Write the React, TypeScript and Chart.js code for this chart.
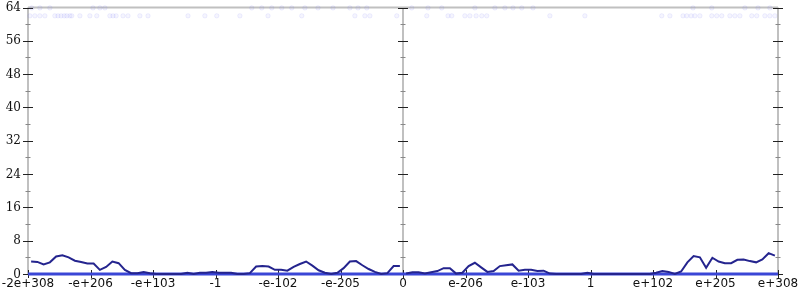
import React, { useEffect, useRef } from "react";
import { Chart, registerables } from "chart.js";

Chart.register(...registerables);

// x axis: tick positions (index units) and their labels
const xTickLabels = [
  "-2e+308", "-e+206", "-e+103", "-1", "-e-102", "-e-205", "0",
  "e-206", "e-103", "1", "e+102", "e+205", "e+308",
];
const yTicks = [0, 8, 16, 24, 32, 40, 48, 56, 64];

// histogram counts, 60 bins per half (negative side, positive side)
const leftCounts = [
  3.0, 2.9, 2.3, 2.8, 4.2, 4.5, 4.0, 3.2, 2.9, 2.5,
  2.5, 1.0, 1.7, 3.0, 2.6, 1.0, 0.2, 0.2, 0.5, 0.2,
  0, 0, 0, 0, 0, 0.3, 0, 0.3, 0.3, 0.5,
  0.3, 0.3, 0.3, 0, 0, 0.2, 1.8, 1.9, 1.8, 1.0,
  1.0, 0.8, 1.7, 2.4, 3.0, 2.0, 0.9, 0.3, 0, 0.3,
  1.4, 3.0, 3.1, 2.1, 1.2, 0.5, 0, 0.2, 1.9, 1.9,
];
const rightCounts = [
  0.1, 0.4, 0.4, 0.1, 0.4, 0.7, 1.4, 1.4, 0.1, 0.3,
  1.9, 2.7, 1.6, 0.5, 0.7, 1.9, 2.1, 2.3, 0.8, 1.0,
  1.0, 0.7, 0.8, 0.1, 0, 0, 0, 0, 0, 0.3,
  0, 0, 0, 0, 0, 0, 0, 0, 0, 0,
  0.3, 0.7, 0.5, 0, 0.6, 2.8, 4.3, 4.0, 1.5, 3.9,
  3.0, 2.6, 2.6, 3.4, 3.5, 3.1, 2.8, 3.5, 5.0, 4.4,
];

// faint sample dots near the top (x in tick-index units)
const dotsLowX = [
  -5.97, -5.89, -5.81, -5.73, -5.57, -5.52, -5.47, -5.42, -5.38, -5.33, -5.3,
  -5.17, -5.01, -4.9, -4.69, -4.64, -4.59, -4.48, -4.4, -4.21, -4.08, -3.44,
  -3.17, -2.98, -2.61, -2.16, -1.62, -0.77, -0.61, -0.53, -0.1,
  0.38, 0.72, 0.78, 0.99, 1.07, 1.17, 1.26, 1.34, 2.35, 2.91, 4.14, 4.27,
  4.48, 4.54, 4.61, 4.67, 4.75, 4.94, 5.02, 5.1, 5.23, 5.31, 5.39, 5.58,
  5.66, 5.79, 5.87, 5.95,
];
const dotsLowY = 62.0;
const dotsHighX = [
  -5.94, -5.81, -5.65, -4.96, -4.85, -4.77, -2.42, -2.26, -2.1, -1.94, -1.78,
  -1.57, -1.36, -1.12, -0.85, -0.72, -0.58,
  0.14, 0.4, 0.62, 1.15, 1.47, 1.63, 1.76, 1.9, 2.08, 4.64, 4.94, 5.47, 5.68,
  5.87,
];
const dotsHighY = 63.9;

const X_MIN = -6;
const X_MAX = 6;
const BIN_W = 0.1;

export default function App() {
  const ref = useRef<HTMLCanvasElement | null>(null);

  useEffect(() => {
    document.body.style.margin = "0";
    const canvas = ref.current;
    if (!canvas) return;

    const axesPlugin = {
      id: "gpAxes",
      beforeDatasetsDraw(chart: any) {
        const { ctx, chartArea, scales } = chart;
        const xs = scales.x;
        const ys = scales.y;
        const axisXs = [xs.getPixelForValue(X_MIN), xs.getPixelForValue(0), xs.getPixelForValue(X_MAX)];
        ctx.save();
        // gray axis lines
        ctx.strokeStyle = "#c0c0c0";
        ctx.lineWidth = 2;
        ctx.beginPath();
        axisXs.forEach((px) => {
          ctx.moveTo(px, chartArea.top);
          ctx.lineTo(px, chartArea.bottom);
        });
        ctx.moveTo(chartArea.left, chartArea.top);
        ctx.lineTo(chartArea.right, chartArea.top);
        ctx.stroke();

        // y ticks on all three vertical axes
        for (let v = 0; v <= 64; v += 4) {
          const py = Math.round(ys.getPixelForValue(v)) + 0.5;
          const major = v % 8 === 0;
          const half = major ? 5 : 2.5;
          ctx.strokeStyle = major ? "#222" : "#888";
          ctx.lineWidth = 1;
          ctx.beginPath();
          axisXs.forEach((px) => {
            ctx.moveTo(px - half, py);
            ctx.lineTo(px + half, py);
          });
          ctx.stroke();
        }
        // x ticks
        ctx.strokeStyle = "#222";
        ctx.beginPath();
        xTickLabels.forEach((_, i) => {
          const px = Math.round(xs.getPixelForValue(X_MIN + i)) + 0.5;
          ctx.moveTo(px, chartArea.bottom - 4);
          ctx.lineTo(px, chartArea.bottom + 4);
        });
        ctx.stroke();

        // labels
        ctx.fillStyle = "#111";
        ctx.font = '12px "DejaVu Serif"';
        ctx.textAlign = "right";
        ctx.textBaseline = "middle";
        yTicks.forEach((v) => {
          ctx.fillText(String(v), chartArea.left - 7, ys.getPixelForValue(v) + 0.5);
        });
        ctx.font = '12px "DejaVu Sans"';
        ctx.textAlign = "center";
        ctx.textBaseline = "alphabetic";
        xTickLabels.forEach((lab, i) => {
          ctx.fillText(lab, xs.getPixelForValue(X_MIN + i), chartArea.bottom + 13);
        });
        ctx.restore();
      },
    };

    const leftData = leftCounts.map((v, i) => ({ x: X_MIN + (i + 0.5) * BIN_W, y: v }));
    const rightData = rightCounts.map((v, i) => ({ x: (i + 0.5) * BIN_W, y: v }));
    const dotsData = [
      ...dotsLowX.map((x) => ({ x, y: dotsLowY })),
      ...dotsHighX.map((x) => ({ x, y: dotsHighY })),
    ];

    const chart = new Chart(canvas, {
      type: "line",
      data: {
        datasets: [
          {
            data: leftData,
            borderColor: "#24248e",
            borderWidth: 2,
            pointRadius: 0,
            tension: 0,
            fill: false,
            clip: false as any,
          },
          {
            data: rightData,
            borderColor: "#24248e",
            borderWidth: 2,
            pointRadius: 0,
            tension: 0,
            fill: false,
            clip: false as any,
          },
          {
            data: [{ x: X_MIN, y: 0 }, { x: X_MAX, y: 0 }],
            borderColor: "#3a46d6",
            borderWidth: 3,
            pointRadius: 0,
            fill: false,
            clip: false as any,
          },
          {
            data: dotsData,
            showLine: false,
            pointRadius: 2.2,
            pointBorderWidth: 1,
            pointBackgroundColor: "rgba(120,120,245,0.07)",
            pointBorderColor: "rgba(120,120,245,0.12)",
            clip: false as any,
          },
        ],
      },
      options: {
        animation: false,
        responsive: false,
        maintainAspectRatio: false,
        layout: { padding: { left: 28, right: 22, top: 7.5, bottom: 26 } },
        plugins: { legend: { display: false }, tooltip: { enabled: false } },
        scales: {
          x: { type: "linear", min: X_MIN, max: X_MAX, display: false },
          y: { type: "linear", min: 0, max: 64, display: false },
        },
      },
      plugins: [axesPlugin],
    });
    return () => chart.destroy();
  }, []);

  return (
    <div style={{ width: 800, height: 300, background: "#fff" }}>
      <canvas ref={ref} width={800} height={300} />
    </div>
  );
}
